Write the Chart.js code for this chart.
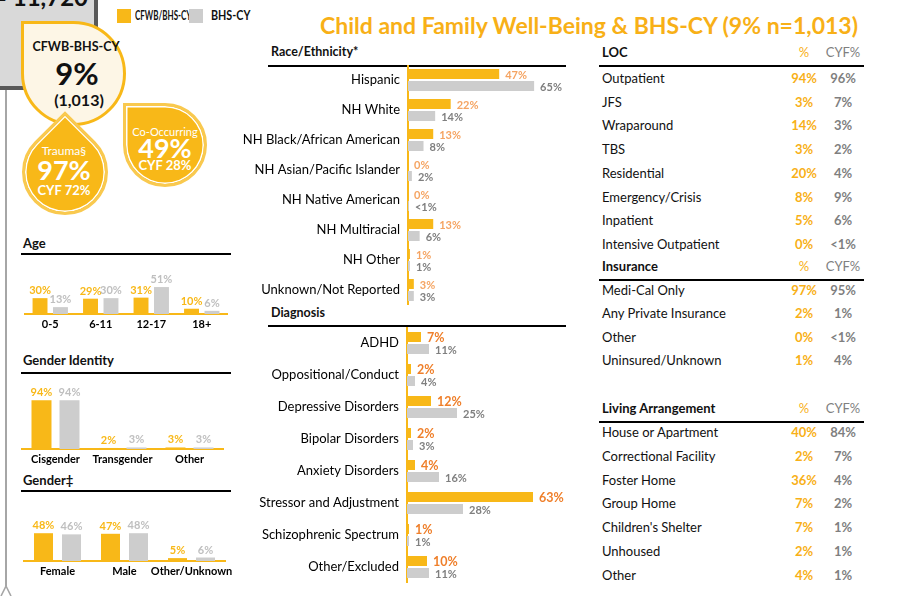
<!DOCTYPE html>
<html>
<head>
<meta charset="utf-8">
<script src="https://cdn.jsdelivr.net/npm/chart.js@4.4.0/dist/chart.umd.min.js"></script>
<style>
body{margin:0;width:909px;height:596px;overflow:hidden;position:relative;font-family:Lato,sans-serif;background:#fff;color:#111;}
.a{position:absolute;white-space:nowrap;}
.c{position:absolute;white-space:nowrap;text-align:center;width:200px;}
.rule{position:absolute;height:2px;background:#000;}
canvas{position:absolute;}
.drop{position:absolute;box-sizing:border-box;border-radius:0 50% 50% 50%;}
.narrow{display:inline-block;transform-origin:left center;}
</style>
</head>
<body>
<!-- top-left total box -->
<div class="a" style="left:-30px;top:-40px;width:120px;height:122px;background:#d9d9d9;border:4px solid #595959;border-radius:20px;"></div>
<div class="a" style="left:-60px;top:-15px;width:148px;text-align:right;font-size:24px;font-weight:bold;line-height:24px;">N = 11,720</div>
<div class="a" style="left:5px;top:90px;width:2px;height:496px;background:#a6a6a6;"></div>
<svg class="a" style="left:0;top:580px;" width="14" height="16"><path d="M6 0 L6 6 L1 16 M6 6 L11 16" stroke="#a6a6a6" stroke-width="1.6" fill="none"/></svg>

<!-- bubbles -->
<div class="drop" style="left:21px;top:21px;width:105px;height:105px;background:#fdf6e6;border:3px solid #f8b818;"></div>
<div class="drop" style="left:22px;top:129px;width:86px;height:86px;background:#f8b818;border:3px solid #f9c94f;box-shadow:inset 0 0 0 1.5px #fff;transform:rotate(45deg);"></div>
<div class="drop" style="left:123px;top:103px;width:84px;height:84px;background:#f8b818;border:3px solid #f9c94f;box-shadow:inset 0 0 0 1.5px #fff;"></div>
<div id="bubbleText"></div>

<!-- legend + title -->
<div class="a" style="left:117px;top:9px;width:14px;height:14px;background:#f8b818;"></div>
<div class="a" style="left:135px;top:8px;font-size:12.5px;font-weight:bold;line-height:16px;"><span class="narrow" style="transform:scaleX(0.64);">CFWB/BHS-CY</span></div>
<div class="a" style="left:189px;top:9px;width:14px;height:14px;background:#cdcdcd;"></div>
<div class="a" style="left:211px;top:8px;font-size:12.5px;font-weight:bold;line-height:16px;"><span class="narrow" style="transform:scaleX(0.86);">BHS-CY</span></div>
<div class="a" style="left:320px;top:10px;font-size:23px;font-weight:bold;color:#f8b017;line-height:30px;">Child and Family Well-Being &amp; BHS-CY (9% n=1,013)</div>

<!-- section titles -->
<div class="a" style="left:23px;top:235px;font-size:13px;font-weight:bold;line-height:16px;">Age</div>
<div class="rule" style="left:21px;top:253px;width:210px;"></div>
<div class="a" style="left:23px;top:352px;font-size:13px;font-weight:bold;line-height:16px;">Gender Identity</div>
<div class="rule" style="left:21px;top:372px;width:210px;"></div>
<div class="a" style="left:23px;top:472px;font-size:13px;font-weight:bold;line-height:16px;">Gender‡</div>
<div class="rule" style="left:21px;top:490px;width:210px;"></div>
<div class="a" style="left:271px;top:44px;font-size:12.5px;font-weight:bold;line-height:16px;">Race/Ethnicity*</div>
<div class="rule" style="left:268px;top:65px;width:298px;"></div>
<div class="a" style="left:271px;top:305px;font-size:12.5px;font-weight:bold;line-height:16px;">Diagnosis</div>
<div class="rule" style="left:268px;top:325px;width:298px;"></div>

<canvas id="ageChart" width="230" height="76" style="left:11px;top:258px;"></canvas>
<canvas id="genderIdChart" width="229" height="89" style="left:8px;top:380px;"></canvas>
<canvas id="genderChart" width="229" height="86" style="left:10px;top:495px;"></canvas>
<canvas id="raceChart" width="360" height="240" style="left:230px;top:65px;"></canvas>
<canvas id="dxChart" width="360" height="256" style="left:230px;top:327px;"></canvas>

<div id="tables"></div>

<script>
const ORANGE = '#f8b818';
const GRAY = '#cdcdcd';

const ageCats = ['0-5', '6-11', '12-17', '18+'];
const ageCFWB = [30, 29, 31, 10];
const ageBHS = [13, 30, 51, 6];

const genderIdCats = ['Cisgender', 'Transgender', 'Other'];
const genderIdCFWB = [94, 2, 3];
const genderIdBHS = [94, 3, 3];

const genderCats = ['Female', 'Male', 'Other/Unknown'];
const genderCFWB = [48, 47, 5];
const genderBHS = [46, 48, 6];

const raceCats = ['Hispanic', 'NH White', 'NH Black/African American', 'NH Asian/Pacific Islander',
    'NH Native American', 'NH Multiracial', 'NH Other', 'Unknown/Not Reported'];
const raceCFWB = [47, 22, 13, 0, 0, 13, 1, 3];
const raceBHS = [65, 14, 8, 2, 0.5, 6, 1, 3];   // 0.5 = "<1%"

const dxCats = ['ADHD', 'Oppositional/Conduct', 'Depressive Disorders', 'Bipolar Disorders',
    'Anxiety Disorders', 'Stressor and Adjustment', 'Schizophrenic Spectrum', 'Other/Excluded'];
const dxCFWB = [7, 2, 12, 2, 4, 63, 1, 10];
const dxBHS = [11, 4, 25, 3, 16, 28, 1, 11];

const locRows = ['Outpatient', 'JFS', 'Wraparound', 'TBS', 'Residential', 'Emergency/Crisis', 'Inpatient', 'Intensive Outpatient'];
const locPct = ['94%', '3%', '14%', '3%', '20%', '8%', '5%', '0%'];
const locCYF = ['96%', '7%', '3%', '2%', '4%', '9%', '6%', '<1%'];

const insRows = ['Medi-Cal Only', 'Any Private Insurance', 'Other', 'Uninsured/Unknown'];
const insPct = ['97%', '2%', '0%', '1%'];
const insCYF = ['95%', '1%', '<1%', '4%'];

const livRows = ['House or Apartment', 'Correctional Facility', 'Foster Home', 'Group Home', "Children's Shelter", 'Unhoused', 'Other'];
const livPct = ['40%', '2%', '36%', '7%', '7%', '2%', '4%'];
const livCYF = ['84%', '7%', '4%', '2%', '1%', '1%', '1%'];

function fmt(v) {
    return (v > 0 && v < 1) ? '<1%' : v + '%';
}

// draws the value next to / above every bar
const valueLabels = {
    id: 'valueLabels',
    afterDatasetsDraw(chart, args, opts) {
        const ctx = chart.ctx;
        const horizontal = chart.options.indexAxis === 'y';
        chart.data.datasets.forEach((ds, di) => {
            const st = opts.styles[di];
            const meta = chart.getDatasetMeta(di);
            ctx.save();
            ctx.font = st.font;
            ctx.fillStyle = st.color;
            meta.data.forEach((bar, i) => {
                const txt = fmt(ds.data[i]);
                if (horizontal) {
                    ctx.textAlign = 'left';
                    ctx.textBaseline = 'middle';
                    ctx.fillText(txt, bar.x + st.offset, bar.y + 1);
                } else {
                    ctx.textAlign = 'center';
                    ctx.textBaseline = 'bottom';
                    ctx.fillText(txt, bar.x, bar.y - st.offset);
                }
            });
            ctx.restore();
        });
    }
};

function columnChart(id, cats, a, b, opt) {
    new Chart(id, {
        type: 'bar',
        data: {
            labels: cats,
            datasets: [
                { data: a, backgroundColor: ORANGE, categoryPercentage: opt.cat, barPercentage: opt.barPct },
                { data: b, backgroundColor: GRAY, categoryPercentage: opt.cat, barPercentage: opt.barPct }
            ]
        },
        options: {
            responsive: false,
            animation: false,
            layout: { padding: { left: 14, right: 14, top: 0, bottom: 0 } },
            scales: {
                x: {
                    grid: { display: false, drawTicks: false },
                    border: { color: ORANGE, width: 2 },
                    ticks: { color: '#000', font: { family: 'Lato', size: 11, weight: 'bold' }, padding: 4, maxRotation: 0, autoSkip: false },
                    afterFit(s) { s.height = 20; s.paddingLeft = 0; s.paddingRight = 0; }
                },
                y: { display: false, min: 0, max: opt.max }
            },
            plugins: {
                legend: { display: false },
                tooltip: { enabled: false },
                valueLabels: {
                    styles: [
                        { color: ORANGE, font: 'bold 11px Lato', offset: 2 },
                        { color: '#bfbfbf', font: 'bold 11px Lato', offset: 2 }
                    ]
                }
            }
        },
        plugins: [valueLabels]
    });
}

function rowChart(id, cats, a, b, opt) {
    new Chart(id, {
        type: 'bar',
        data: {
            labels: cats,
            datasets: [
                { data: a, backgroundColor: ORANGE, categoryPercentage: opt.cat, barPercentage: 0.833 },
                { data: b, backgroundColor: GRAY, categoryPercentage: opt.cat, barPercentage: 0.833 }
            ]
        },
        options: {
            indexAxis: 'y',
            responsive: false,
            animation: false,
            layout: { padding: 0 },
            scales: {
                x: { display: false, min: 0, max: opt.max },
                y: {
                    grid: { display: false, drawTicks: false },
                    border: { color: ORANGE, width: 2 },
                    ticks: { color: '#000', font: { family: 'Lato', size: 13 }, padding: 8, autoSkip: false },
                    afterFit(s) { s.width = opt.axisW; s.paddingTop = 0; s.paddingBottom = 0; }
                }
            },
            plugins: {
                legend: { display: false },
                tooltip: { enabled: false },
                valueLabels: {
                    styles: [
                        { color: opt.orangeLabel, font: opt.orangeFont, offset: 6 },
                        { color: '#7f7f7f', font: 'bold 11px Lato', offset: 6 }
                    ]
                }
            }
        },
        plugins: [valueLabels]
    });
}

columnChart('ageChart', ageCats, ageCFWB, ageBHS, { cat: 0.81, barPct: 0.73, max: 106 });
columnChart('genderIdChart', genderIdCats, genderIdCFWB, genderIdBHS, { cat: 0.836, barPct: 0.714, max: 133 });
columnChart('genderChart', genderCats, genderCFWB, genderBHS, { cat: 0.836, barPct: 0.68, max: 114 });

rowChart('raceChart', raceCats, raceCFWB, raceBHS, { cat: 0.8, axisW: 178, max: 93.8, orangeLabel: '#f5a462', orangeFont: 'bold 11px Lato' });
rowChart('dxChart', dxCats, dxCFWB, dxBHS, { cat: 0.75, axisW: 177, max: 91.5, orangeLabel: '#ef7f2a', orangeFont: 'bold 12.5px Lato' });

// bubble texts
function centered(cx, cy, h, text, style) {
    return '<div class="c" style="left:' + (cx - 100) + 'px;top:' + (cy - h / 2) + 'px;height:' + h +
        'px;line-height:' + h + 'px;' + style + '">' + text + '</div>';
}
let bt = '';
bt += centered(76, 47, 16, 'CFWB-BHS-CY', 'font-size:12.5px;font-weight:bold;');
bt += centered(77, 73, 34, '9%', 'font-size:31px;font-weight:bold;');
bt += centered(79, 100, 20, '(1,013)', 'font-size:16px;font-weight:bold;');
bt += centered(64, 150, 15, 'Trauma§', 'font-size:12px;color:#fff;');
bt += centered(64, 170, 28, '97%', 'font-size:27px;font-weight:bold;color:#fff;');
bt += centered(64, 190, 16, 'CYF 72%', 'font-size:13px;font-weight:bold;color:#fff;');
bt += centered(165, 131, 15, 'Co-Occurring', 'font-size:11px;color:#fff;');
bt += centered(165, 148, 28, '49%', 'font-size:27px;font-weight:bold;color:#fff;');
bt += centered(165, 165, 16, 'CYF 28%', 'font-size:13px;font-weight:bold;color:#fff;');
document.getElementById('bubbleText').innerHTML = bt;

// right-hand tables
function table(headY, lineY, rowY, step, head, rows, pct, cyf) {
    let h = '';
    h += '<div class="a" style="left:602px;top:' + (headY - 9) + 'px;line-height:18px;font-size:13px;font-weight:bold;">' + head + '</div>';
    h += centered(804, headY, 18, '%', 'font-size:13px;color:#f8b017;');
    h += centered(843, headY, 18, 'CYF%', 'font-size:13px;color:#7f7f7f;');
    h += '<div class="rule" style="left:599px;top:' + lineY + 'px;width:265px;"></div>';
    rows.forEach((r, i) => {
        const y = rowY + i * step;
        h += '<div class="a" style="left:602px;top:' + (y - 9) + 'px;line-height:18px;font-size:13px;">' + r + '</div>';
        h += centered(804, y, 18, pct[i], 'font-size:13px;font-weight:bold;color:#f8b017;');
        h += centered(843, y, 18, cyf[i], 'font-size:13px;font-weight:bold;color:#7f7f7f;');
    });
    return h;
}
document.getElementById('tables').innerHTML =
    table(52, 65, 78, 23.7, 'LOC', locRows, locPct, locCYF) +
    table(266, 279, 289.5, 23.6, 'Insurance', insRows, insPct, insCYF) +
    table(408, 421, 432, 23.8, 'Living Arrangement', livRows, livPct, livCYF);
</script>
</body>
</html>
